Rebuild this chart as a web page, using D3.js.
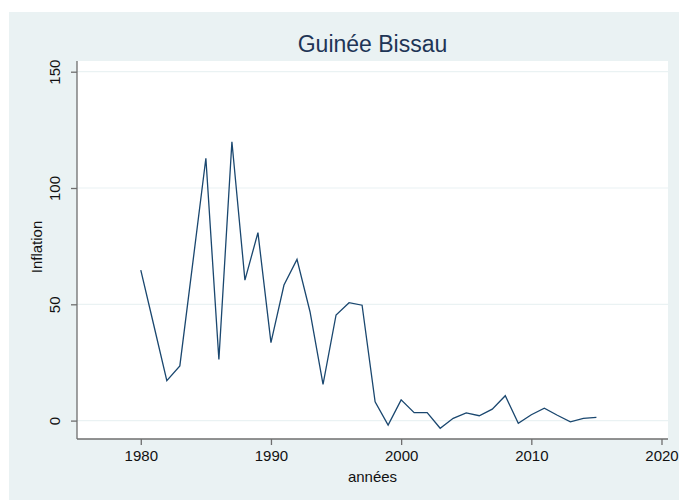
<!DOCTYPE html>
<html>
<head>
<meta charset="utf-8">
<script src="https://cdn.jsdelivr.net/npm/d3@7"></script>
<style>
  html, body { margin: 0; padding: 0; background: #ffffff; }
  svg { display: block; }
  text { font-family: "Liberation Sans", Arial, sans-serif; }
</style>
</head>
<body>
<svg id="chart" width="679" height="500"></svg>
<script>
const years = [1980,1981,1982,1983,1984,1985,1986,1987,1988,1989,1990,1991,1992,1993,1994,1995,1996,1997,1998,1999,2000,2001,2002,2003,2004,2005,2006,2007,2008,2009,2010,2011,2012,2013,2014,2015];
const inflation = [64.7,41.0,17.2,23.5,68.0,112.8,26.3,119.9,60.4,80.8,33.5,58.3,69.3,46.8,15.6,45.4,50.7,49.6,8.1,-1.9,8.9,3.4,3.4,-3.3,1.0,3.3,2.1,4.9,10.7,-1.2,2.5,5.3,2.3,-0.5,1.0,1.4];
const xTicks = [1980,1990,2000,2010,2020];
const yTicks = [0,50,100,150];
const titleText = "Guinée Bissau";
const xLabel = "années";
const yLabel = "Inflation";

const svg = d3.select("#chart");
const W = 679, H = 500;
const plot = {left: 77, right: 668, top: 61, bottom: 439};

// outer background
svg.append("rect").attr("x", 9).attr("y", 12).attr("width", W - 9).attr("height", H - 12)
  .attr("fill", "#eaf2f3");
// plot region
svg.append("rect").attr("x", plot.left).attr("y", plot.top)
  .attr("width", plot.right - plot.left).attr("height", plot.bottom - plot.top)
  .attr("fill", "#ffffff");

const x = d3.scaleLinear().domain([1975.1, 2020.5]).range([plot.left, plot.right]);
const y = d3.scaleLinear().domain([0, 150]).range([420.6, 71.7]);

// gridlines
svg.append("g").selectAll("line").data(yTicks).join("line")
  .attr("x1", plot.left).attr("x2", plot.right)
  .attr("y1", d => y(d)).attr("y2", d => y(d))
  .attr("stroke", "#eaf2f3").attr("stroke-width", 1.2);

// axes
const xAxis = svg.append("g").attr("transform", `translate(0,${plot.bottom})`)
  .call(d3.axisBottom(x).tickValues(xTicks).tickFormat(d3.format("d")).tickSize(6).tickPadding(5).tickSizeOuter(0));
const yAxis = svg.append("g").attr("transform", `translate(${plot.left},0)`)
  .call(d3.axisLeft(y).tickValues(yTicks).tickSize(6).tickPadding(5).tickSizeOuter(0));

[xAxis, yAxis].forEach(g => {
  g.select(".domain").attr("stroke", "#6e6e6e").attr("stroke-width", 1.3);
  g.selectAll(".tick line").attr("stroke", "#6e6e6e").attr("stroke-width", 1.3);
  g.selectAll(".tick text").attr("fill", "#111").attr("font-size", 15)
    .attr("font-family", "Liberation Sans, Arial, sans-serif");
});
xAxis.select(".domain").attr("d", `M${plot.left},0H${plot.right}`);
yAxis.select(".domain").attr("d", `M0,${plot.top}V${plot.bottom}`);

// rotate y tick labels
yAxis.selectAll(".tick text")
  .attr("transform", "rotate(-90)")
  .attr("x", 0).attr("y", -17)
  .attr("dy", "0")
  .attr("text-anchor", "middle");

// line
const line = d3.line().x((d, i) => x(years[i])).y(d => y(d));
svg.append("path").datum(inflation)
  .attr("d", line)
  .attr("fill", "none")
  .attr("stroke", "#1a476f")
  .attr("stroke-width", 1.3)
  .attr("stroke-linejoin", "miter");

// title
svg.append("text").attr("x", (plot.left + plot.right) / 2).attr("y", 52)
  .attr("text-anchor", "middle").attr("font-size", 23).attr("fill", "#1e3556")
  .text(titleText);

// axis titles
svg.append("text").attr("x", (plot.left + plot.right) / 2).attr("y", 482)
  .attr("text-anchor", "middle").attr("font-size", 15).attr("fill", "#111")
  .text(xLabel);
svg.append("text").attr("transform", `translate(42,${(plot.top + plot.bottom) / 2 - 3}) rotate(-90)`)
  .attr("text-anchor", "middle").attr("font-size", 15).attr("fill", "#111")
  .text(yLabel);
</script>
</body>
</html>
